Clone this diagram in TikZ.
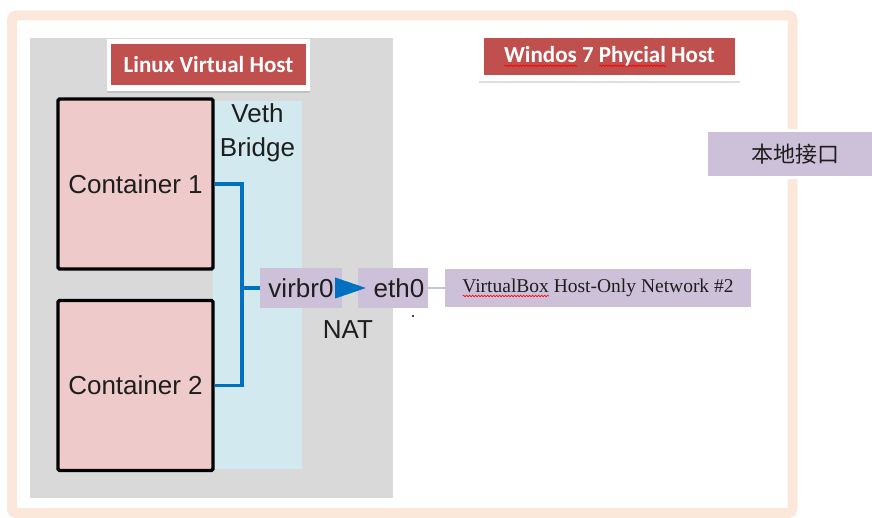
\documentclass[tikz,border=0pt]{standalone}
\usepackage{fontspec}
\usetikzlibrary{shadows,decorations.pathmorphing}
\newfontfamily\arialf{Liberation Sans}
\newfontfamily\calf{Carlito}
\newfontfamily\serf{Liberation Serif}
\newfontfamily\cjkf{Noto Sans CJK SC}
\definecolor{framepeach}{RGB}{252,232,218}
\definecolor{hostgray}{RGB}{217,217,217}
\definecolor{bridgeblue}{RGB}{210,233,240}
\definecolor{contpink}{RGB}{238,203,202}
\definecolor{ifpurple}{RGB}{205,193,218}
\definecolor{busblue}{RGB}{0,112,192}
\definecolor{labelred}{RGB}{192,80,77}
\definecolor{darktext}{RGB}{30,30,30}
\newlength\wavelen
\newcommand\redwave[1]{\settowidth\wavelen{#1}\rlap{\tikz[baseline=0pt,x=1pt,y=1pt]\draw[red,line width=0.6pt,decorate,decoration={snake,amplitude=0.8pt,segment length=3pt}] (0pt,-3.5pt) -- (\wavelen,-3.5pt);}#1}
\tikzset{
  container/.style={draw=black, line width=3.4pt, fill=contpink, rounded corners=1.5pt,
    minimum width=155pt, minimum height=170pt, inner sep=0pt,
    font=\arialf\fontsize{26}{30}\selectfont, text=darktext},
  ifbox/.style={fill=ifpurple, inner sep=0pt, minimum height=40pt,
    font=\arialf\fontsize{26}{30}\selectfont, text=darktext},
  labelframe/.style={fill=white, inner sep=0pt,
    drop shadow={shadow xshift=0pt, shadow yshift=-2.5pt, opacity=0.25}},
  labelred/.style={fill=labelred, inner sep=0pt, text=white,
    font=\calf\bfseries\fontsize{23}{27}\selectfont},
  bus/.style={draw=busblue, line width=3.6pt},
  plaintext/.style={inner sep=0pt, font=\arialf\fontsize{26}{30}\selectfont, text=darktext}
}
\begin{document}
\begin{tikzpicture}[x=1pt,y=-1pt]
\useasboundingbox (0,0) rectangle (872,518);
% outer frame
\draw[framepeach, line width=10pt, rounded corners=4pt] (12,15.5) rectangle (792.5,513);
% linux host area
\fill[hostgray] (30,38) rectangle (393,498);
\fill[bridgeblue] (213,101) rectangle (302,469);
% containers
\node[container] (c1) at (135.5,184) {Container 1};
\node[container] (c2) at (135.5,385.5) {Container 2};
% bridge text
\node[plaintext, align=center, font=\arialf\fontsize{26}{34}\selectfont] (veth) at (257.5,133) {Veth\\Bridge};
% interfaces
\node[ifbox, minimum width=82pt] (virbr) at (301,288) {virbr0};
\node[ifbox, minimum width=70pt] (eth) at (393,288) {\hspace*{12pt}eth0};
\node[plaintext] (nat) at (348,330) {NAT};
\fill (413,316) circle (1.1);
% bus
\coordinate (bx) at (242,288);
\draw[bus] (c1.east) -- (c1.east -| bx) -- (c2.east -| bx) -- (c2.east);
\draw[bus] (bx) -- (virbr.west);
% arrow
\fill[busblue] ([xshift=-7pt,yshift=10.5pt]virbr.east) -- ([xshift=8pt]eth.west) -- ([xshift=-7pt,yshift=-10.5pt]virbr.east) -- cycle;
% host-only network
\node[fill=ifpurple, inner sep=0pt, minimum width=306pt, minimum height=38pt,
  font=\serf\fontsize{19.5}{23}\selectfont, text=darktext] (vbox) at (598,288)
  {\redwave{VirtualBox} Host-Only Network \#2};
\draw[ifpurple, line width=2pt] (eth.east) -- (vbox.west);
% local interface
\node[fill=ifpurple, draw=white, line width=3pt, inner sep=0pt, minimum width=170pt, minimum height=47pt,
  font=\cjkf\fontsize{22}{26}\selectfont, text=darktext, anchor=west] (local) at (705,154.5) {\hspace*{8pt}本地接口};
% labels
\node[labelframe, minimum width=203pt, minimum height=52pt] (lvhframe) at (208.5,65) {};
\node[labelred, minimum width=195pt, minimum height=41pt] (lvh) at (208.5,64.5) {Linux Virtual Host};
\node[labelframe, minimum width=261pt, minimum height=48pt] (winframe) at (609.5,57) {};
\node[labelred, minimum width=251pt, minimum height=37pt] (win) at (609.5,56.5) {\redwave{Windos} 7 \redwave{Phycial} Host};
\end{tikzpicture}
\end{document}
